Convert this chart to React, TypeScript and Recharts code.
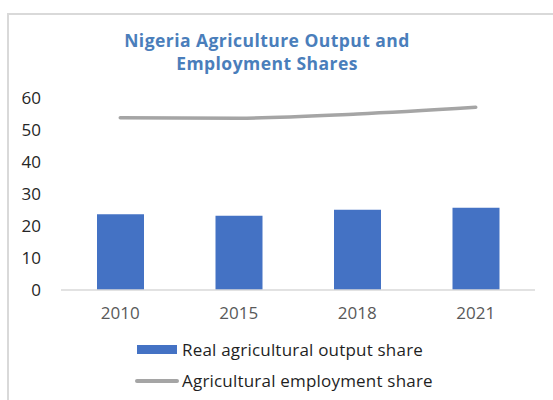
import React from "react";
import { ComposedChart, Bar, Line, XAxis, YAxis } from "recharts";

const years = ["2010", "2015", "2018", "2021"];
const outputShare = [23.7, 23.2, 25.1, 25.7];
const employmentShare = [53.8, 53.7, 55.0, 57.1];
const yTicks = [0, 10, 20, 30, 40, 50, 60];
const titleLines = ["Nigeria Agriculture Output and", "Employment Shares"];
const legendLabels = ["Real agricultural output share", "Agricultural employment share"];

const data = years.map((y, i) => ({
  year: y,
  output: outputShare[i],
  employment: employmentShare[i],
}));

const FONT = "'Open Sans', 'Noto Sans', sans-serif";
const BAR = "#4472C4";
const LINE = "#A5A5A5";

export default function App() {
  return (
    <div
      style={{
        position: "absolute",
        left: 0,
        top: 0,
        width: 553,
        height: 400,
        overflow: "hidden",
        background: "#fff",
        fontFamily: FONT,
      }}
    >
      <div
        style={{
          position: "absolute",
          left: 7,
          top: 13,
          width: 600,
          height: 500,
          borderLeft: "2px solid #D9D9D9",
          borderTop: "2px solid #D9D9D9",
        }}
      />
      <div
        style={{
          position: "absolute",
          left: 0,
          width: 534,
          top: 29,
          textAlign: "center",
          color: "#4A7EBB",
          fontWeight: 700,
          fontSize: 17.5,
          letterSpacing: 0.45,
          lineHeight: "23px",
        }}
      >
        {titleLines.map((t) => (
          <div key={t}>{t}</div>
        ))}
      </div>
      <div style={{ position: "absolute", left: 0, top: 0 }}>
        <ComposedChart
          width={553}
          height={400}
          data={data}
          margin={{ top: 98, right: 18, bottom: 80, left: 21 }}
        >
          <XAxis
            dataKey="year"
            axisLine={{ stroke: "#D9D9D9", strokeWidth: 1.5 }}
            tickLine={false}
            tickSize={0}
            tickMargin={17}
            tick={{ fill: "#595959", fontSize: 17, fontFamily: FONT }}
            height={30}
          />
          <YAxis
            domain={[0, 60]}
            ticks={yTicks}
            axisLine={false}
            tickLine={false}
            tickSize={0}
            tickMargin={20}
            width={40}
            interval={0}
            tick={{ fill: "#262626", fontSize: 17, fontFamily: FONT }}
          />
          <Bar dataKey="output" fill={BAR} barSize={47} isAnimationActive={false} />
          <Line
            dataKey="employment"
            type="monotone"
            stroke={LINE}
            strokeWidth={3.5}
            strokeLinecap="round"
            dot={false}
            activeDot={false}
            isAnimationActive={false}
          />
        </ComposedChart>
      </div>
      <div
        style={{
          position: "absolute",
          left: 137,
          top: 345,
          width: 40,
          height: 9,
          background: BAR,
        }}
      />
      <div
        style={{
          position: "absolute",
          left: 135,
          top: 379,
          width: 44,
          height: 3.5,
          borderRadius: 2,
          background: LINE,
        }}
      />
      {legendLabels.map((t, i) => (
        <div
          key={t}
          style={{
            position: "absolute",
            left: 182,
            top: i === 0 ? 338.5 : 369.5,
            fontSize: 17,
            letterSpacing: 0.2,
            lineHeight: "22px",
            color: "#1F1F1F",
            whiteSpace: "nowrap",
          }}
        >
          {t}
        </div>
      ))}
    </div>
  );
}
